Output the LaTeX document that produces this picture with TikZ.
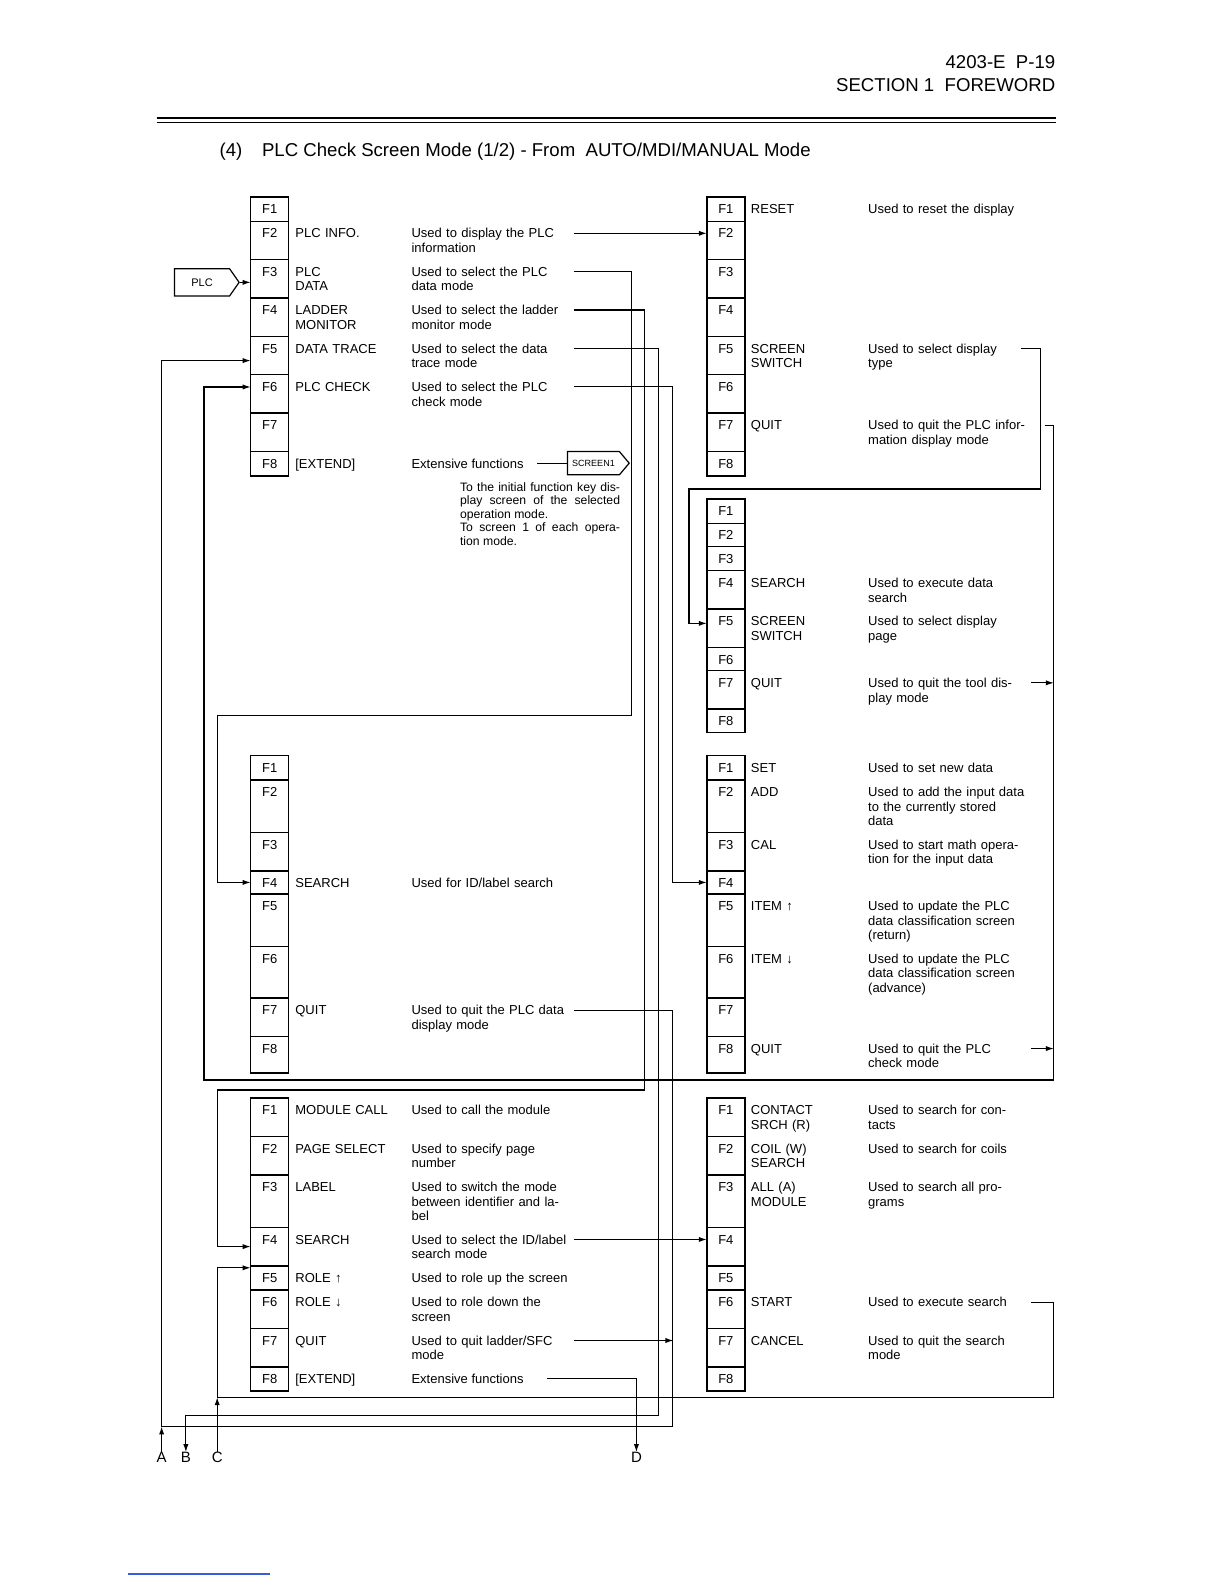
\documentclass[tikz,border=0pt]{standalone}
\usepackage{fontspec}
\setmainfont{Liberation Sans}
\usetikzlibrary{arrows.meta,shapes.symbols}
\definecolor{linkblue}{RGB}{60,90,220}

\begin{document}
\begin{tikzpicture}[
  x=0.505pt, y=-0.505pt,
  font=\fontsize{6.5}{7.3}\selectfont,
  fkey/.style={draw, line width=0.7pt, minimum width=19pt, inner sep=0pt, outer sep=0pt},
  fklab/.style={anchor=base, inner sep=0pt},
  nm/.style={anchor=base west, text width=56pt, align=left, inner sep=0pt},
  ext/.style={anchor=base west, inner sep=0pt},
  ds/.style={anchor=base west, text width=80pt, align=left, inner sep=0pt},
  notetxt/.style={anchor=base west, text width=80pt, align=justify, inner sep=0pt, font=\fontsize{6.1}{6.7}\selectfont},
  con/.style={line width=0.6pt},
  arr/.style={con, -{Latex[length=4pt,width=2.6pt]}},
  sig/.style={draw, line width=0.6pt, signal, signal to=east, inner sep=0pt},
  endlab/.style={inner sep=0pt, font=\fontsize{7.5}{8}\selectfont}
]
\useasboundingbox (0,0) rectangle (1212,1568);

% page header
\node[anchor=base east, inner sep=0pt, font=\fontsize{9.3}{11}\selectfont] (pgno) at (1045,67.5) {4203-E\ \ P-19};
\node[anchor=base east, inner sep=0pt, font=\fontsize{9.3}{11}\selectfont] (sect) at (1045,90.5) {SECTION 1\ \ FOREWORD};
\draw[line width=1.1pt] (155,116.5) -- (1045,116.5);
\draw[line width=0.5pt] (155,121) -- (1045,121);
\node[anchor=base west, inner sep=0pt, font=\fontsize{9.3}{11}\selectfont] (ttlno) at (217,154.5) {(4)};
\node[anchor=base west, inner sep=0pt, font=\fontsize{9.3}{11}\selectfont] (ttl) at (259,154.5) {PLC Check Screen Mode (1/2) - From\ \ AUTO/MDI/MANUAL Mode};

% key columns: PLC screen / PLC info
\foreach \k/\t/\b in {1/195/219,2/219/257,3/257/295,4/295/333,5/333/371,6/371/409,7/409/447,8/447/471}{
  \node[fkey, minimum height={(\b-\t)*0.505pt}] (plc\k) at (267,{(\t+\b)/2}) {};
  \node[fklab] at (267,\t+16.5) {F\k};
  \node[fkey, minimum height={(\b-\t)*0.505pt}] (inf\k) at (718.5,{(\t+\b)/2}) {};
  \node[fklab] at (718.5,\t+16.5) {F\k};
}
% tool display
\foreach \k/\t/\b in {1/494/518,2/518/541,3/541/565,4/565/603,5/603/641,6/641/664,7/664/702,8/702/725}{
  \node[fkey, minimum height={(\b-\t)*0.505pt}] (tool\k) at (718.5,{(\t+\b)/2}) {};
  \node[fklab] at (718.5,\t+16.5) {F\k};
}
% PLC data / PLC check
\foreach \k/\t/\b in {1/748/772,2/772/824,3/824/862,4/862/885,5/885/937,6/937/988,7/988/1026,8/1026/1062}{
  \node[fkey, minimum height={(\b-\t)*0.505pt}] (dat\k) at (267,{(\t+\b)/2}) {};
  \node[fklab] at (267,\t+16.5) {F\k};
  \node[fkey, minimum height={(\b-\t)*0.505pt}] (chk\k) at (718.5,{(\t+\b)/2}) {};
  \node[fklab] at (718.5,\t+16.5) {F\k};
}
% ladder monitor / search
\foreach \k/\t/\b in {1/1087/1125,2/1125/1163,3/1163/1215,4/1215/1253,5/1253/1277,6/1277/1315,7/1315/1353,8/1353/1377}{
  \node[fkey, minimum height={(\b-\t)*0.505pt}] (lad\k) at (267,{(\t+\b)/2}) {};
  \node[fklab] at (267,\t+16.5) {F\k};
  \node[fkey, minimum height={(\b-\t)*0.505pt}] (src\k) at (718.5,{(\t+\b)/2}) {};
  \node[fklab] at (718.5,\t+16.5) {F\k};
}

% PLC screen texts
\node[sig, minimum width=32.3pt, minimum height=13.6pt, signal pointer angle=110, font=\fontsize{5.5}{6}\selectfont] (plcsig) at (200,279.5) {PLC};
\node[nm] (plcn2) at (292,235.5) {PLC INFO.};
\node[ds] (plcd2) at (407,235.5) {Used to display the PLC\\information};
\node[nm] (plcn3) at (292,273.5) {PLC\\DATA};
\node[ds] (plcd3) at (407,273.5) {Used to select the PLC\\data mode};
\node[nm] (plcn4) at (292,311.5) {LADDER\\MONITOR};
\node[ds] (plcd4) at (407,311.5) {Used to select the ladder\\monitor mode};
\node[nm] (plcn5) at (292,349.5) {DATA TRACE};
\node[ds] (plcd5) at (407,349.5) {Used to select the data\\trace mode};
\node[nm] (plcn6) at (292,387.5) {PLC CHECK};
\node[ds] (plcd6) at (407,387.5) {Used to select the PLC\\check mode};
\node[nm] (plcn8) at (292,463.5) {[EXTEND]};
\node[ext] (plcd8) at (407,463.5) {Extensive functions};
\node[sig, minimum width=30.8pt, minimum height=11.6pt, signal pointer angle=100, font=\fontsize{4.5}{5}\selectfont] (scr1) at (587.5,458.5) {SCREEN1};
\node[notetxt] (plcnote) at (455,486.5) {To the initial function key dis-\linebreak play screen of the selected\linebreak operation mode.\\To screen 1 of each opera-\linebreak tion mode.};

% PLC info texts
\node[nm] (infn1) at (743,211.5) {RESET};
\node[ds] (infd1) at (859,211.5) {Used to reset the display};
\node[nm] (infn5) at (743,349.5) {SCREEN\\SWITCH};
\node[ds] (infd5) at (859,349.5) {Used to select display\\type};
\node[nm] (infn7) at (743,425.5) {QUIT};
\node[ds] (infd7) at (859,425.5) {Used to quit the PLC infor-\\mation display mode};

% tool display texts
\node[nm] (tooln4) at (743,581.5) {SEARCH};
\node[ds] (toold4) at (859,581.5) {Used to execute data\\search};
\node[nm] (tooln5) at (743,619.5) {SCREEN\\SWITCH};
\node[ds] (toold5) at (859,619.5) {Used to select display\\page};
\node[nm] (tooln7) at (743,680.5) {QUIT};
\node[ds] (toold7) at (859,680.5) {Used to quit the tool dis-\\play mode};

% PLC data texts
\node[nm] (datn4) at (292,878.5) {SEARCH};
\node[ds] (datd4) at (407,878.5) {Used for ID/label search};
\node[nm] (datn7) at (292,1004.5) {QUIT};
\node[ds] (datd7) at (407,1004.5) {Used to quit the PLC data\\display mode};

% PLC check texts
\node[nm] (chkn1) at (743,764.5) {SET};
\node[ds] (chkd1) at (859,764.5) {Used to set new data};
\node[nm] (chkn2) at (743,788.5) {ADD};
\node[ds] (chkd2) at (859,788.5) {Used to add the input data\\to the currently stored\\data};
\node[nm] (chkn3) at (743,840.5) {CAL};
\node[ds] (chkd3) at (859,840.5) {Used to start math opera-\\tion for the input data};
\node[nm] (chkn5) at (743,901.5) {ITEM ↑};
\node[ds] (chkd5) at (859,901.5) {Used to update the PLC\\data classification screen\\(return)};
\node[nm] (chkn6) at (743,953.5) {ITEM ↓};
\node[ds] (chkd6) at (859,953.5) {Used to update the PLC\\data classification screen\\(advance)};
\node[nm] (chkn8) at (743,1042.5) {QUIT};
\node[ds] (chkd8) at (859,1042.5) {Used to quit the PLC\\check mode};

% ladder monitor texts
\node[nm] (ladn1) at (292,1103.5) {MODULE CALL};
\node[ds] (ladd1) at (407,1103.5) {Used to call the module};
\node[nm] (ladn2) at (292,1141.5) {PAGE SELECT};
\node[ds] (ladd2) at (407,1141.5) {Used to specify page\\number};
\node[nm] (ladn3) at (292,1179.5) {LABEL};
\node[ds] (ladd3) at (407,1179.5) {Used to switch the mode\\between identifier and la-\\bel};
\node[nm] (ladn4) at (292,1231.5) {SEARCH};
\node[ds] (ladd4) at (407,1231.5) {Used to select the ID/label\\search mode};
\node[nm] (ladn5) at (292,1269.5) {ROLE ↑};
\node[ds] (ladd5) at (407,1269.5) {Used to role up the screen};
\node[nm] (ladn6) at (292,1293.5) {ROLE ↓};
\node[ds] (ladd6) at (407,1293.5) {Used to role down the\\screen};
\node[nm] (ladn7) at (292,1331.5) {QUIT};
\node[ds] (ladd7) at (407,1331.5) {Used to quit ladder/SFC\\mode};
\node[nm] (ladn8) at (292,1369.5) {[EXTEND]};
\node[ext] (ladd8) at (407,1369.5) {Extensive functions};

% search texts
\node[nm] (srcn1) at (743,1103.5) {CONTACT\\SRCH (R)};
\node[ds] (srcd1) at (859,1103.5) {Used to search for con-\\tacts};
\node[nm] (srcn2) at (743,1141.5) {COIL (W)\\SEARCH};
\node[ds] (srcd2) at (859,1141.5) {Used to search for coils};
\node[nm] (srcn3) at (743,1179.5) {ALL (A)\\MODULE};
\node[ds] (srcd3) at (859,1179.5) {Used to search all pro-\\grams};
\node[nm] (srcn6) at (743,1293.5) {START};
\node[ds] (srcd6) at (859,1293.5) {Used to execute search};
\node[nm] (srcn7) at (743,1331.5) {CANCEL};
\node[ds] (srcd7) at (859,1331.5) {Used to quit the search\\mode};

% off-page marks
\node[endlab] (labA) at (160,1443) {A};
\node[endlab] (labB) at (184,1443) {B};
\node[endlab] (labC) at (215,1443) {C};
\node[endlab] (labD) at (630,1443) {D};
\coordinate (jA) at (160,1412);
\coordinate (jC) at (215,1383);

% connector starts
\coordinate (plco2) at ([shift={(1pt,2.3pt)}]plcd2.base east);
\coordinate (plco3) at ([shift={(1pt,2.3pt)}]plcd3.base east);
\coordinate (plco4) at ([shift={(1pt,2.3pt)}]plcd4.base east);
\coordinate (plco5) at ([shift={(1pt,2.3pt)}]plcd5.base east);
\coordinate (plco6) at ([shift={(1pt,2.3pt)}]plcd6.base east);
\coordinate (info5) at ([shift={(-4pt,2.3pt)}]infd5.base east);
\coordinate (info7) at ([shift={(8pt,2.3pt)}]infd7.base east);
\coordinate (toolo7) at ([shift={(1.3pt,2.3pt)}]toold7.base east);
\coordinate (dato7) at ([shift={(1pt,2.3pt)}]datd7.base east);
\coordinate (chko8) at ([shift={(1.3pt,2.3pt)}]chkd8.base east);
\coordinate (lado4) at ([shift={(1pt,2.3pt)}]ladd4.base east);
\coordinate (lado7) at ([shift={(1pt,2.3pt)}]ladd7.base east);
\coordinate (srco6) at ([shift={(1.3pt,2.3pt)}]srcd6.base east);

% connectors
\draw[arr] (plcsig.east) -- (plcsig.east -| plc3.west);
\draw[arr] (plco2) -- (plco2 -| inf2.west);
\draw[arr] (plco3) -| (625,708) -- (215,708) |- (dat4.west);
\draw[arr] (plco4) -| (638,1079) -- (215,1079) |- (lad4.west);
\draw[arr] (plco5) -| (652,1401) -| (labB.north);
\draw[arr] (plco6) -| (666,873.5) -- (chk4.west);
\draw[con] (scr1.west) -- ++(-30,0);
\draw[arr] (info5) -| (1030,484) -- (682,484) |- ([yshift=2.5pt]tool5.west);
\draw[arr] (info7) -| (1043,1069) -- (202,1069) |- ([yshift=3.5pt]plc6.west);
\draw[arr] (toolo7) -- ++(22.5,0);
\draw[arr] (chko8) -- ++(22.5,0);
\draw[arr] (dato7) -| (666,1412) -- (jA) |- ([yshift=-2.5pt]plc5.west);
\draw[arr] (labA.north) -- (jA);
\draw[arr] (lado4) -- (lado4 -| src4.west);
\draw[arr] (lado7) -- ++(98.5,0);
\draw[arr] ([xshift=11.5pt]ladd8.east) -| (labD.north);
\draw[arr] (srco6) -| (1043,1383) -- (jC) |- ([yshift=-1pt]lad5.north west);
\draw[arr] (labC.north) -- (jC);

% stray link rule at the foot
\draw[linkblue, line width=0.6pt] (127,1558) -- (267,1558);
\end{tikzpicture}
\end{document}
